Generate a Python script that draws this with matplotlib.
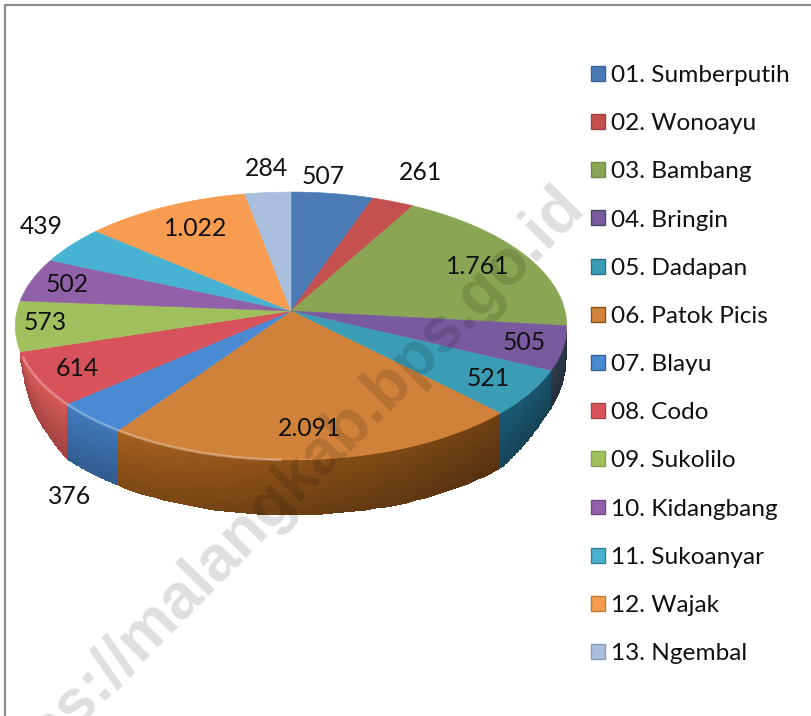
import matplotlib
matplotlib.use("Agg")
import matplotlib.pyplot as plt
import matplotlib.colors as mcolors
from matplotlib.patches import Patch
import numpy as np

plt.rcParams['font.family'] = ['Lato', 'DejaVu Sans']

desa = ['01. Sumberputih', '02. Wonoayu', '03. Bambang', '04. Bringin', '05. Dadapan',
        '06. Patok Picis', '07. Blayu', '08. Codo', '09. Sukolilo', '10. Kidangbang',
        '11. Sukoanyar', '12. Wajak', '13. Ngembal']
nilai = [507, 261, 1761, 505, 521, 2091, 376, 614, 573, 502, 439, 1022, 284]
label_nilai = ['507', '261', '1.761', '505', '521', '2.091', '376', '614', '573', '502', '439', '1.022', '284']

warna_atas = ['#4a7bb5', '#c4504f', '#8aa553', '#7a5a9f', '#3a9db5', '#d0823a', '#4a8ad2',
              '#d8525c', '#a0c05e', '#9060a8', '#48b2d2', '#f79c50', '#a9bedd']
warna_sisi = ['#3a6297', '#a04040', '#708a40', '#3e4e66', '#22708f', '#8a5018', '#346298',
              '#a84644', '#80a04a', '#704a88', '#30809c', '#c07a30', '#8899bb']

# posisi label, di-layout manual (piksel)
label_pos = [(323, 177), (421, 173), (478, 266), (524, 343), (488, 379), (310, 428), (70, 497),
             (77, 369), (45, 323), (67, 284), (41, 226), (196, 228), (266, 169)]

# proyeksi lingkaran ke bidang gambar
CX, CY = 291, 311
RX, RY, K = 274, 132.3, 0.112
TEBAL = 55


def proyeksi(sudut):
    u, v = np.sin(sudut), np.cos(sudut)
    return CX + RX * u / (1 + K * v), CY - RY * v / (1 + K * v)


def tebal_sisi(derajat):
    # dinding menipis ke tepi kiri dan kanan
    return TEBAL * np.interp(derajat, [95, 100, 120, 135, 229, 245, 253], [0, .58, .72, 1, 1, .62, .12])


fig = plt.figure(figsize=(8.12, 7.16), dpi=100)
ax = fig.add_axes([0, 0, 1, 1])
ax.set_xlim(0, 812)
ax.set_ylim(716, 0)
ax.axis('off')

batas = np.radians(np.concatenate([[0], np.cumsum(nilai)]) / sum(nilai) * 360)

# dinding samping
for i in range(len(nilai)):
    a = np.linspace(batas[i], batas[i + 1], 40)
    deg = np.degrees(a)
    a = a[(deg > 95) & (deg < 253)]
    if a.size < 2:
        continue
    x, y = proyeksi(a)
    kedalaman = np.linspace(0, 1, 12)
    X = np.outer(np.ones(12), x)
    Y = np.outer(kedalaman, tebal_sisi(np.degrees(a))) + y
    base = np.array(mcolors.to_rgb(warna_sisi[i]))
    f_v = (1.05 - 0.25 * kedalaman)[:-1, None]
    f_h = (1.25 - 0.55 * (x[:-1] / 567))[None, :]
    C = np.clip(f_v[:, :, None] * f_h[:, :, None] * base, 0, 1)
    ax.pcolormesh(X, Y, C, shading='flat', zorder=1)

# permukaan atas
for i in range(len(nilai)):
    a = np.linspace(batas[i], batas[i + 1], 80)
    x, y = proyeksi(a)
    ax.fill(np.r_[CX, x], np.r_[CY, y], color=warna_atas[i], lw=0.4, zorder=2)

# kilau tepi depan
a = np.radians(np.linspace(182, 250, 80))
x, y = proyeksi(a)
ax.plot(x, y, color='white', lw=2, alpha=0.28, zorder=3)

for teks, pos in zip(label_nilai, label_pos):
    ax.text(pos[0], pos[1], teks, fontsize=17.8, color='#111111', ha='center', va='center', zorder=5)

handles = [Patch(facecolor=w, edgecolor=s, lw=1) for w, s in zip(warna_atas, warna_sisi)]
ax.legend(handles, desa, loc='upper left', bbox_to_anchor=(591 / 812, 1 - 65 / 716), frameon=False,
          fontsize=17.6, handlelength=0.56, handleheight=0.56, handletextpad=0.25, labelspacing=1.112,
          borderpad=0, borderaxespad=0, labelcolor='#111111')

# bingkai
ax.plot([5, 5, 812], [716, 5, 5], color='#8c8c8c', lw=1.6, zorder=6)

# watermark
ax.text(586, 208, 'https://malangkab.bps.go.id', fontsize=46, fontweight='bold', family='Liberation Sans',
        color='black', alpha=0.13, rotation=45.5, rotation_mode='anchor', ha='right', va='baseline', zorder=7)

fig.savefig('out.png', dpi=100)
